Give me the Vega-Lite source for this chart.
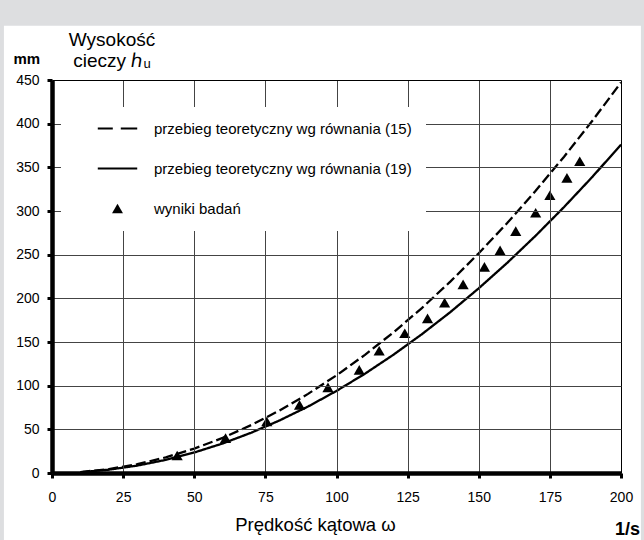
{
  "$schema": "https://vega.github.io/schema/vega-lite/v6.json",
  "width": 569,
  "height": 393,
  "autosize": "none",
  "padding": {"left": 52, "top": 80, "right": 23, "bottom": 67},
  "background": "#dddee0",
  "title": {
    "text": ["Wysokość", "cieczy ℎᵤ"],
    "frame": "group",
    "anchor": "start",
    "align": "center",
    "dx": 60,
    "font": "Liberation Sans",
    "fontSize": 19,
    "fontWeight": "normal",
    "lineHeight": 21,
    "offset": -45,
    "color": "black"
  },
  "datasets": {
    "krzywe": [
      {"omega": 10, "h": 1.1, "seria": "przebieg teoretyczny wg równania (15)"},
      {"omega": 20, "h": 4.5, "seria": "przebieg teoretyczny wg równania (15)"},
      {"omega": 30, "h": 10.1, "seria": "przebieg teoretyczny wg równania (15)"},
      {"omega": 40, "h": 17.9, "seria": "przebieg teoretyczny wg równania (15)"},
      {"omega": 50, "h": 28.0, "seria": "przebieg teoretyczny wg równania (15)"},
      {"omega": 60, "h": 40.2, "seria": "przebieg teoretyczny wg równania (15)"},
      {"omega": 70, "h": 54.8, "seria": "przebieg teoretyczny wg równania (15)"},
      {"omega": 80, "h": 71.6, "seria": "przebieg teoretyczny wg równania (15)"},
      {"omega": 90, "h": 90.6, "seria": "przebieg teoretyczny wg równania (15)"},
      {"omega": 100, "h": 111.8, "seria": "przebieg teoretyczny wg równania (15)"},
      {"omega": 110, "h": 135.3, "seria": "przebieg teoretyczny wg równania (15)"},
      {"omega": 120, "h": 161.0, "seria": "przebieg teoretyczny wg równania (15)"},
      {"omega": 130, "h": 188.9, "seria": "przebieg teoretyczny wg równania (15)"},
      {"omega": 140, "h": 219.1, "seria": "przebieg teoretyczny wg równania (15)"},
      {"omega": 150, "h": 251.6, "seria": "przebieg teoretyczny wg równania (15)"},
      {"omega": 160, "h": 286.2, "seria": "przebieg teoretyczny wg równania (15)"},
      {"omega": 170, "h": 323.1, "seria": "przebieg teoretyczny wg równania (15)"},
      {"omega": 180, "h": 362.2, "seria": "przebieg teoretyczny wg równania (15)"},
      {"omega": 190, "h": 403.6, "seria": "przebieg teoretyczny wg równania (15)"},
      {"omega": 200, "h": 447.2, "seria": "przebieg teoretyczny wg równania (15)"},
      {"omega": 10, "h": 0.9, "seria": "przebieg teoretyczny wg równania (19)"},
      {"omega": 20, "h": 3.8, "seria": "przebieg teoretyczny wg równania (19)"},
      {"omega": 30, "h": 8.5, "seria": "przebieg teoretyczny wg równania (19)"},
      {"omega": 40, "h": 15.0, "seria": "przebieg teoretyczny wg równania (19)"},
      {"omega": 50, "h": 23.5, "seria": "przebieg teoretyczny wg równania (19)"},
      {"omega": 60, "h": 33.8, "seria": "przebieg teoretyczny wg równania (19)"},
      {"omega": 70, "h": 46.1, "seria": "przebieg teoretyczny wg równania (19)"},
      {"omega": 80, "h": 60.2, "seria": "przebieg teoretyczny wg równania (19)"},
      {"omega": 90, "h": 76.1, "seria": "przebieg teoretyczny wg równania (19)"},
      {"omega": 100, "h": 94.0, "seria": "przebieg teoretyczny wg równania (19)"},
      {"omega": 110, "h": 113.7, "seria": "przebieg teoretyczny wg równania (19)"},
      {"omega": 120, "h": 135.4, "seria": "przebieg teoretyczny wg równania (19)"},
      {"omega": 130, "h": 158.9, "seria": "przebieg teoretyczny wg równania (19)"},
      {"omega": 140, "h": 184.2, "seria": "przebieg teoretyczny wg równania (19)"},
      {"omega": 150, "h": 211.5, "seria": "przebieg teoretyczny wg równania (19)"},
      {"omega": 160, "h": 240.6, "seria": "przebieg teoretyczny wg równania (19)"},
      {"omega": 170, "h": 271.7, "seria": "przebieg teoretyczny wg równania (19)"},
      {"omega": 180, "h": 304.6, "seria": "przebieg teoretyczny wg równania (19)"},
      {"omega": 190, "h": 339.3, "seria": "przebieg teoretyczny wg równania (19)"},
      {"omega": 200, "h": 376.0, "seria": "przebieg teoretyczny wg równania (19)"}
    ],
    "pomiary": [
      {"omega": 44, "h": 20, "seria": "wyniki badań"},
      {"omega": 61, "h": 40, "seria": "wyniki badań"},
      {"omega": 75.5, "h": 59, "seria": "wyniki badań"},
      {"omega": 87, "h": 78, "seria": "wyniki badań"},
      {"omega": 97, "h": 98, "seria": "wyniki badań"},
      {"omega": 108, "h": 118, "seria": "wyniki badań"},
      {"omega": 115, "h": 140, "seria": "wyniki badań"},
      {"omega": 124, "h": 160, "seria": "wyniki badań"},
      {"omega": 132, "h": 177, "seria": "wyniki badań"},
      {"omega": 138, "h": 195, "seria": "wyniki badań"},
      {"omega": 144.5, "h": 216, "seria": "wyniki badań"},
      {"omega": 152, "h": 236, "seria": "wyniki badań"},
      {"omega": 157.5, "h": 255, "seria": "wyniki badań"},
      {"omega": 163, "h": 277, "seria": "wyniki badań"},
      {"omega": 170, "h": 298, "seria": "wyniki badań"},
      {"omega": 175, "h": 318, "seria": "wyniki badań"},
      {"omega": 181, "h": 338, "seria": "wyniki badań"},
      {"omega": 185.5, "h": 357, "seria": "wyniki badań"}
    ]
  },
  "config": {
    "font": "Liberation Sans",
    "view": {"stroke": "black", "strokeWidth": 1},
    "axis": {
      "grid": true,
      "domainColor": "black",
      "domainWidth": 4.5,
      "tickColor": "black",
      "tickWidth": 3,
      "tickSize": 5,
      "labelFont": "Liberation Sans",
      "labelFontSize": 14,
      "labelColor": "black",
      "labelFlush": false,
      "labelOverlap": false,
      "gridWidth": 1,
      "titleFont": "Liberation Sans",
      "titleColor": "black"
    }
  },
  "layer": [
    {
      "data": {"values": [{}]},
      "mark": {"type": "rect", "color": "white", "clip": false},
      "encoding": {
        "x": {"datum": -16.9, "type": "quantitative"},
        "x2": {"datum": 207},
        "y": {"datum": -76.7, "type": "quantitative"},
        "y2": {"datum": 512}
      }
    },
    {
      "data": {"name": "krzywe"},
      "mark": {"type": "line", "color": "black", "strokeWidth": 2.3},
      "encoding": {
        "x": {
          "field": "omega",
          "type": "quantitative",
          "scale": {"domain": [0, 200], "nice": false, "zero": false},
          "axis": {
            "zindex": 1,
            "grid": true,
            "values": [0, 25, 50, 75, 100, 125, 150, 175, 200],
            "title": "Prędkość kątowa ω",
            "titleFontSize": 18.5,
            "titleFontWeight": "normal",
            "titleX": 263,
            "titleAlign": "center",
            "titleY": 57,
            "titleBaseline": "alphabetic",
            "labelPadding": 12,
            "gridColor": {"condition": {"test": "datum.value === 200", "value": "black"}, "value": "#444444"}
          }
        },
        "y": {
          "field": "h",
          "type": "quantitative",
          "scale": {"domain": [0, 450], "nice": false, "zero": false},
          "axis": {
            "zindex": 1,
            "grid": true,
            "values": [0, 50, 100, 150, 200, 250, 300, 350, 400, 450],
            "title": "mm",
            "titleAngle": 0,
            "titleFontSize": 15,
            "titleFontWeight": "bold",
            "titleAlign": "left",
            "titleBaseline": "alphabetic",
            "titleX": -39,
            "titleY": -17,
            "labelPadding": 8,
            "gridColor": {"condition": {"test": "datum.value === 450", "value": "black"}, "value": "#444444"}
          }
        },
        "detail": {"field": "seria"},
        "strokeDash": {
          "field": "seria",
          "type": "nominal",
          "scale": {
            "domain": ["przebieg teoretyczny wg równania (15)", "przebieg teoretyczny wg równania (19)"],
            "range": [[10, 4], [1, 0]]
          },
          "legend": null
        }
      }
    },
    {
      "data": {"name": "pomiary"},
      "mark": {"type": "point", "filled": true, "color": "black", "opacity": 1, "size": 125},
      "encoding": {
        "x": {"field": "omega", "type": "quantitative"},
        "y": {"field": "h", "type": "quantitative"},
        "shape": {
          "field": "seria",
          "type": "nominal",
          "scale": {
            "domain": ["przebieg teoretyczny wg równania (15)", "przebieg teoretyczny wg równania (19)", "wyniki badań"],
            "range": [
              "M-3.6,-0.17H-0.86V0.17H-3.6Z M0.6,-0.17H3.6V0.17H0.6Z",
              "M-3.6,-0.17H3.6V0.17H-3.6Z",
              "triangle-up"
            ]
          },
          "legend": {
            "orient": "none",
            "legendX": 9,
            "legendY": 27,
            "title": null,
            "fillColor": "white",
            "padding": 14,
            "labelFont": "Liberation Sans",
            "labelFontSize": 15,
            "labelColor": "black",
            "symbolOffset": 35,
            "labelOffset": 29,
            "labelLimit": 400,
            "rowPadding": 24,
            "symbolSize": 120,
            "symbolFillColor": "black",
            "symbolStrokeColor": "black",
            "symbolStrokeWidth": 0,
            "zindex": 2,
            "encode": {
              "symbols": {
                "update": {
                  "fill": {"value": "black"},
                  "opacity": {"value": 1}
                }
              }
            }
          }
        }
      }
    },
    {
      "data": {"values": [{}]},
      "mark": {"type": "text", "text": "1/s", "align": "right", "baseline": "alphabetic", "dx": 19, "dy": 62, "fontSize": 18, "fontWeight": "bold", "color": "black", "font": "Liberation Sans", "clip": false},
      "encoding": {
        "x": {"datum": 200, "type": "quantitative"},
        "y": {"datum": 0, "type": "quantitative"}
      }
    }
  ]
}
